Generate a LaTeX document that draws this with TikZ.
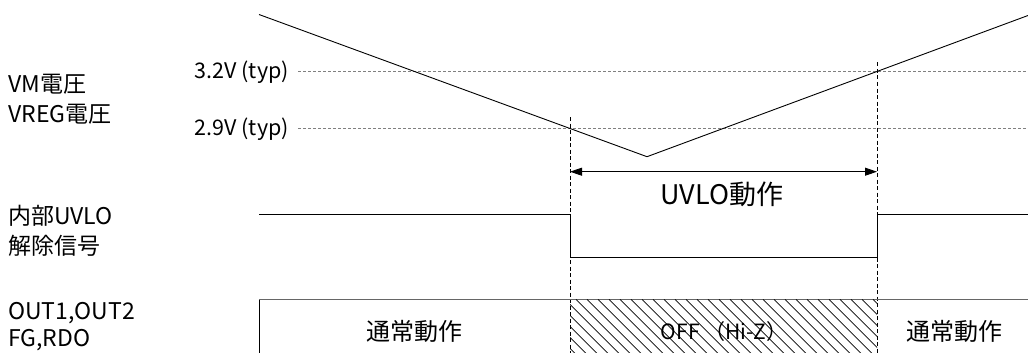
\documentclass[tikz,border=0pt]{standalone}
\usepackage{fontspec}
\setmainfont{Noto Sans CJK JP}
\usetikzlibrary{arrows.meta}
\begin{document}
\begin{tikzpicture}[x=1pt,y=-1pt,
  lbl/.style={anchor=west,inner sep=0pt,font=\fontsize{23}{23}\selectfont},
  thr/.style={anchor=east,inner sep=0pt,font=\fontsize{21.5}{21.5}\selectfont},
  box/.style={inner sep=0pt,font=\fontsize{24}{24}\selectfont},
  wave/.style={line width=0.9pt,black},
  thrline/.style={gray,line width=0.9pt,dash pattern=on 3pt off 2pt},
  vdash/.style={black,line width=0.7pt,dash pattern=on 4pt off 2.5pt},
  hatch/.style={black,line width=0.7pt}]
\useasboundingbox (0,0) rectangle (1028,353);
% labels
\node[lbl] (l1) at (8,84) {VM電圧};
\node[lbl] (l2) at (8,114) {VREG電圧};
\node[lbl] (l3) at (8,216) {内部UVLO};
\node[lbl] (l4) at (8,246) {解除信号};
\node[lbl] (l5) at (8,313) {OUT1,OUT2};
\node[lbl] (l6) at (8,340) {FG,RDO};
% thresholds
\node[thr] (t32) at (289,72) {3.2V (typ)};
\node[thr] (t29) at (289,129) {2.9V (typ)};
\coordinate (t32e) at (1028,71.7);
\coordinate (t29e) at (1028,128.3);
\draw[thrline] (298,71.7) -- (t32e);
\draw[thrline] (298,128.3) -- (t29e);
% V waveform
\coordinate (v0) at (259,14.5);
\coordinate (vmin) at (647,156.7);
\coordinate (v1) at (1028,15.5);
\draw[wave] (v0) -- (vmin) -- (v1);
% vertical dashed lines
\coordinate (d1t) at (570,117);
\coordinate (d1b) at (570,353);
\coordinate (d2t) at (877,62.5);
\coordinate (d2b) at (877,353);
\draw[vdash] (d1t) -- (d1b);
\draw[vdash] (d2t) -- (d2b);
% arrow
\coordinate (a1) at (570,171.7);
\coordinate (a2) at (877,171.7);
\draw[line width=0.9pt,{Triangle[length=12pt,width=8pt]}-{Triangle[length=12pt,width=8pt]}] (a1) -- (a2);
\node[box,font=\fontsize{27}{27}\selectfont] (uvlo) at (722,194) {UVLO動作};
% UVLO signal
\coordinate (u0) at (259,214);
\coordinate (u1) at (570,214);
\coordinate (u2) at (570,257.3);
\coordinate (u3) at (877,257.3);
\coordinate (u4) at (877,214);
\coordinate (u5) at (1028,214);
\draw[wave] (u0) -- (u1) -- (u2) -- (u3) -- (u4) -- (u5);
% output row
\coordinate (o0) at (259,353);
\coordinate (o1) at (259,299.3);
\coordinate (o2) at (1028,299.3);
\draw[black,line width=0.8pt] (o0) -- (o1);
\draw[gray!80!black,line width=1pt] (o1) -- (o2);
\node[box] (n1) at (414,331.5) {通常動作};
\node[box] (n2) at (954,331.5) {通常動作};
\node[box,font=\fontsize{21}{21}\selectfont] (off) at (724,331.5) {OFF （Hi-Z）};
\begin{scope}
\clip (570,299.3) rectangle (877,353);
\foreach \i in {0,...,35} {
  \draw[hatch] (510+11*\i,299.3) -- ++(60,60);
}
\end{scope}
\end{tikzpicture}
\end{document}
